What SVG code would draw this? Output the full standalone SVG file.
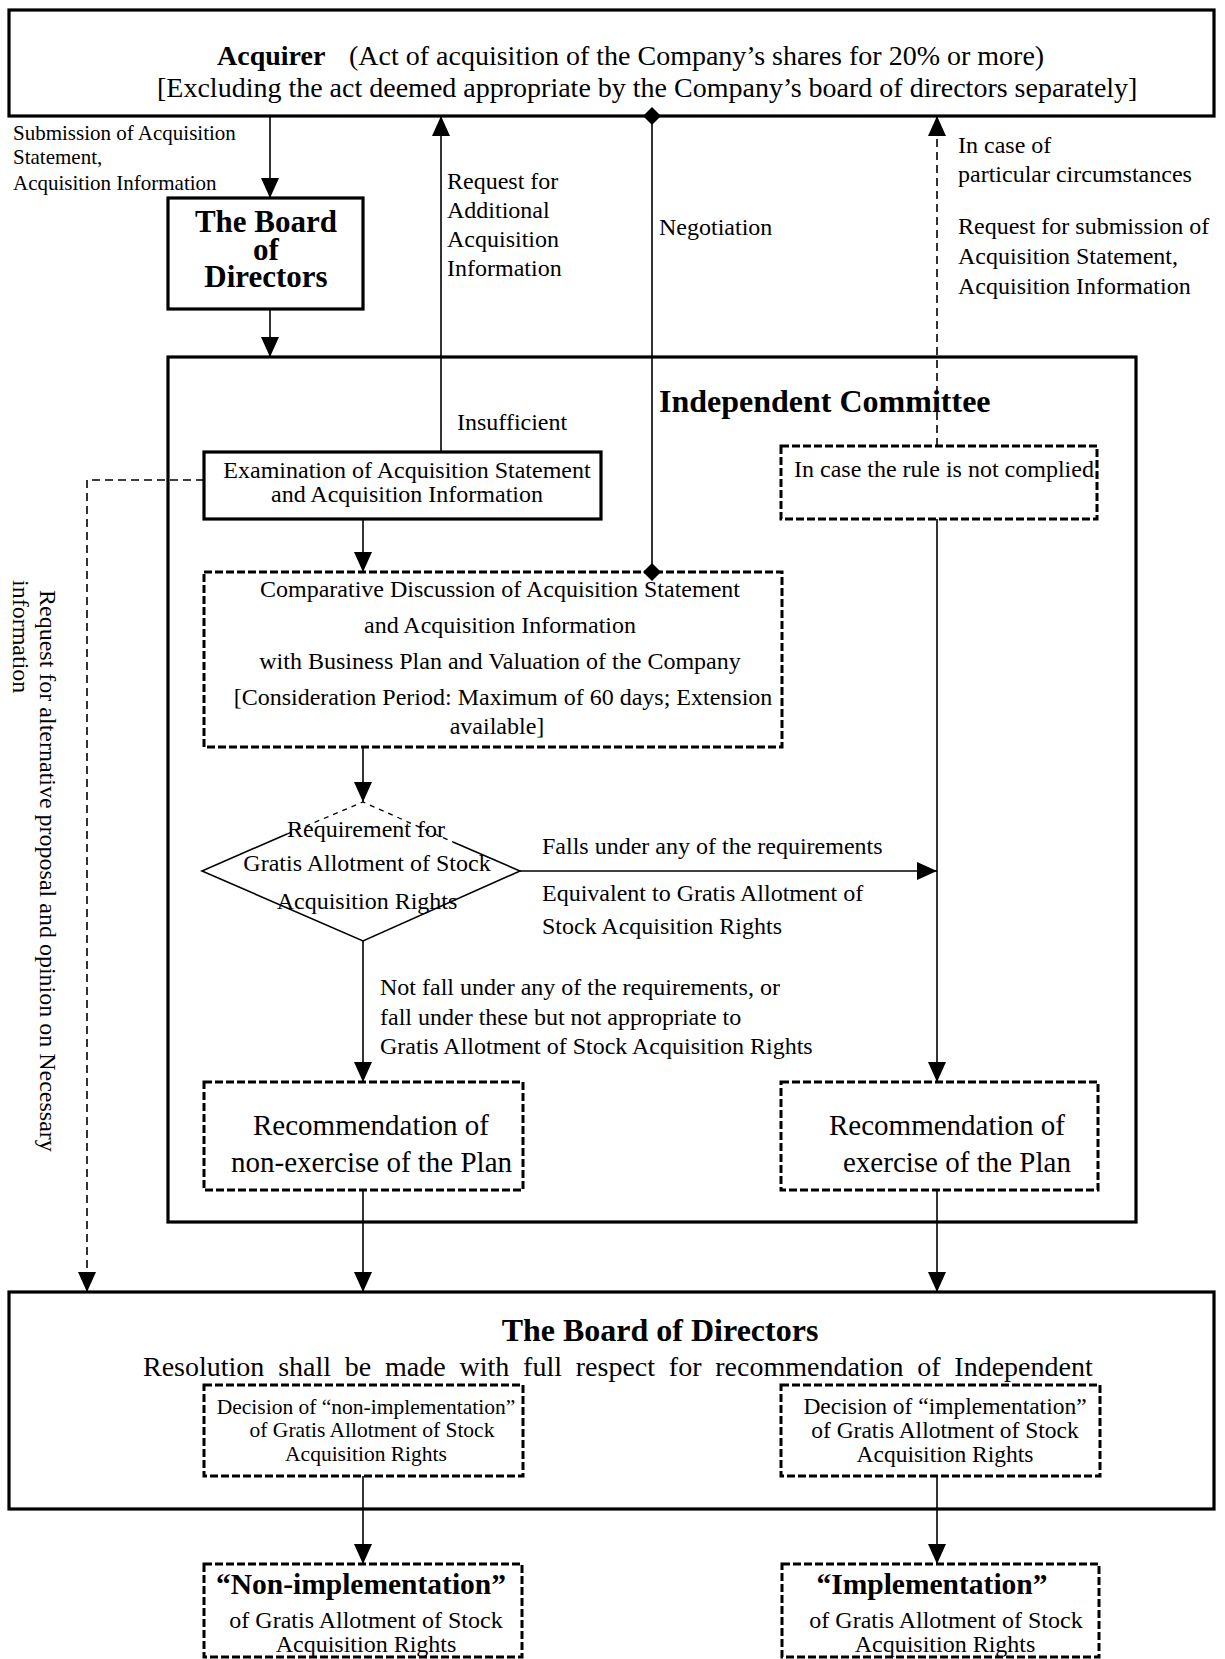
<svg xmlns="http://www.w3.org/2000/svg" width="1225" height="1659" viewBox="0 0 1225 1659">
<style>
text { font-family: "Liberation Serif", "Times New Roman", serif; fill: #000; }
.b { font-weight: bold; }
.m { text-anchor: middle; }
.box { fill: #fff; stroke: #000; stroke-width: 3.2; }
.dbox { fill: #fff; stroke: #000; stroke-width: 3; stroke-dasharray: 8 3; }
.ln { fill: none; stroke: #000; stroke-width: 1.6; }
.dl { fill: none; stroke: #000; stroke-width: 1.6; stroke-dasharray: 8 5; }
.dt { fill: none; stroke: #000; stroke-width: 1.3; stroke-dasharray: 5 5; }
</style>
<defs>
<marker id="arr" viewBox="0 0 20 18" markerWidth="20" markerHeight="18" refX="20" refY="9" orient="auto" markerUnits="userSpaceOnUse">
<path d="M0,0 L20,9 L0,18 Z" fill="#000"/>
</marker>
<marker id="dia" viewBox="0 0 18 18" markerWidth="18" markerHeight="18" refX="9" refY="9" orient="auto" markerUnits="userSpaceOnUse">
<path d="M0,9 L9,0 L18,9 L9,18 Z" fill="#000"/>
</marker>
</defs>

<g id="committee">
<rect class="box" x="168" y="357" width="968" height="865" fill="none"/>
<text class="b" x="659" y="412" font-size="32">Independent Committee</text>
</g>

<g id="board-big">
<rect class="box" x="9" y="1292" width="1205" height="217"/>
<text class="b m" x="660" y="1341" font-size="32">The Board of Directors</text>
<text x="143" y="1376" font-size="28" word-spacing="6.8">Resolution shall be made with full respect for recommendation of Independent</text>
</g>

<g id="labels" font-size="24">
<text x="13" y="140" font-size="21">Submission of Acquisition</text>
<text x="13" y="164" font-size="21">Statement,</text>
<text x="13" y="190" font-size="21">Acquisition Information</text>
<text x="447" y="189">Request for</text>
<text x="447" y="218">Additional</text>
<text x="447" y="247">Acquisition</text>
<text x="447" y="276">Information</text>
<text x="659" y="235">Negotiation</text>
<text x="958" y="153">In case of</text>
<text x="958" y="182">particular circumstances</text>
<text x="958" y="234">Request for submission of</text>
<text x="958" y="264">Acquisition Statement,</text>
<text x="958" y="294">Acquisition Information</text>
<text x="457" y="430">Insufficient</text>
<text transform="translate(40,590) rotate(90)">Request for alternative proposal and opinion on Necessary</text>
<text transform="translate(13,580) rotate(90)">information</text>
<text x="542" y="854">Falls under any of the requirements</text>
<text x="542" y="901">Equivalent to Gratis Allotment of</text>
<text x="542" y="934">Stock Acquisition Rights</text>
<text x="380" y="995">Not fall under any of the requirements, or</text>
<text x="380" y="1025">fall under these but not appropriate to</text>
<text x="380" y="1054">Gratis Allotment of Stock Acquisition Rights</text>
</g>

<g id="acquirer">
<rect class="box" x="9" y="10" width="1205" height="106"/>
<text x="217" y="65" font-size="28"><tspan class="b">Acquirer</tspan><tspan x="349">(Act of acquisition of the Company’s shares for 20% or more)</tspan></text>
<text x="157" y="97" font-size="28">[Excluding the act deemed appropriate by the Company’s board of directors separately]</text>
</g>

<g id="board-small">
<rect class="box" x="168" y="198" width="195" height="111"/>
<text class="b m" x="266" y="232" font-size="31">The Board</text>
<text class="b m" x="266" y="260" font-size="31">of</text>
<text class="b m" x="266" y="287" font-size="31">Directors</text>
</g>

<g id="examination">
<rect class="box" x="204" y="452" width="397" height="67"/>
<text class="m" x="407" y="478" font-size="24">Examination of Acquisition Statement</text>
<text class="m" x="407" y="502" font-size="24">and Acquisition Information</text>
</g>

<g id="comparative">
<rect class="dbox" x="204" y="572" width="578" height="175"/>
<text class="m" x="500" y="597" font-size="24">Comparative Discussion of Acquisition Statement</text>
<text class="m" x="500" y="633" font-size="24">and Acquisition Information</text>
<text class="m" x="500" y="669" font-size="24">with Business Plan and Valuation of the Company</text>
<text class="m" x="503" y="705" font-size="24">[Consideration Period: Maximum of 60 days; Extension</text>
<text class="m" x="497" y="734" font-size="24">available]</text>
</g>

<g id="rule-not-complied">
<rect class="dbox" x="781" y="446" width="316" height="73"/>
<text x="794" y="477" font-size="24">In case the rule is not complied</text>
</g>

<g id="requirement">
<path class="ln" d="M287,834 L202,871 L363,941 L520,871 L453,842"/>
<path class="dt" d="M287,834 L363,802 L453,842"/>
<text class="m" x="366" y="837" font-size="24">Requirement for</text>
<text class="m" x="367" y="871" font-size="24">Gratis Allotment of Stock</text>
<text class="m" x="367" y="909" font-size="24">Acquisition Rights</text>
</g>

<g id="rec-non-exercise">
<rect class="dbox" x="204" y="1082" width="319" height="108"/>
<text x="253" y="1135" font-size="29">Recommendation of</text>
<text x="231" y="1172" font-size="29">non-exercise of the Plan</text>
</g>

<g id="rec-exercise">
<rect class="dbox" x="781" y="1082" width="317" height="108"/>
<text x="829" y="1135" font-size="29">Recommendation of</text>
<text x="843" y="1172" font-size="29">exercise of the Plan</text>
</g>

<g id="decision-non-impl">
<rect class="dbox" x="204" y="1385" width="319" height="91"/>
<text class="m" x="366" y="1414" font-size="21.5">Decision of “non-implementation”</text>
<text class="m" x="372" y="1437" font-size="21.5">of Gratis Allotment of Stock</text>
<text class="m" x="366" y="1461" font-size="21.5">Acquisition Rights</text>
</g>

<g id="decision-impl">
<rect class="dbox" x="781" y="1385" width="319" height="91"/>
<text class="m" x="945" y="1414" font-size="23.5">Decision of “implementation”</text>
<text class="m" x="945" y="1438" font-size="23.5">of Gratis Allotment of Stock</text>
<text class="m" x="945" y="1462" font-size="23.5">Acquisition Rights</text>
</g>

<g id="non-implementation">
<rect class="dbox" x="204" y="1564" width="318" height="93"/>
<text class="b m" x="361" y="1594" font-size="29.5">“Non-implementation”</text>
<text class="m" x="366" y="1628" font-size="24">of Gratis Allotment of Stock</text>
<text class="m" x="366" y="1652" font-size="24">Acquisition Rights</text>
</g>

<g id="implementation">
<rect class="dbox" x="782" y="1564" width="317" height="93"/>
<text class="b m" x="932" y="1594" font-size="29.5">“Implementation”</text>
<text class="m" x="946" y="1628" font-size="24">of Gratis Allotment of Stock</text>
<text class="m" x="945" y="1652" font-size="24">Acquisition Rights</text>
</g>

<g id="connectors">
<line class="ln" x1="270" y1="116" x2="270" y2="198" marker-end="url(#arr)"/>
<line class="ln" x1="270" y1="309" x2="270" y2="357" marker-end="url(#arr)"/>
<line class="ln" x1="441" y1="452" x2="441" y2="116" marker-end="url(#arr)"/>
<line class="ln" x1="652" y1="116" x2="652" y2="572" marker-start="url(#dia)" marker-end="url(#dia)"/>
<line class="dl" x1="937" y1="446" x2="937" y2="116" marker-end="url(#arr)"/>
<line class="ln" x1="363" y1="519" x2="363" y2="572" marker-end="url(#arr)"/>
<polyline class="dl" points="204,480 87,480 87,1292" marker-end="url(#arr)"/>
<line class="ln" x1="363" y1="747" x2="363" y2="802" marker-end="url(#arr)"/>
<line class="ln" x1="520" y1="871" x2="937" y2="871" marker-end="url(#arr)"/>
<line class="ln" x1="363" y1="941" x2="363" y2="1082" marker-end="url(#arr)"/>
<line class="ln" x1="937" y1="519" x2="937" y2="1082" marker-end="url(#arr)"/>
<line class="ln" x1="363" y1="1190" x2="363" y2="1292" marker-end="url(#arr)"/>
<line class="ln" x1="937" y1="1190" x2="937" y2="1292" marker-end="url(#arr)"/>
<line class="ln" x1="363" y1="1476" x2="363" y2="1564" marker-end="url(#arr)"/>
<line class="ln" x1="937" y1="1476" x2="937" y2="1564" marker-end="url(#arr)"/>
</g>
</svg>
